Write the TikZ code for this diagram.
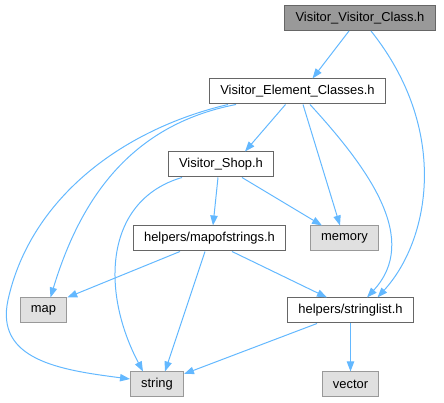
\documentclass[tikz,border=0pt]{standalone}
\usepackage{fontspec}
\setmainfont{Liberation Sans}
\usetikzlibrary{arrows.meta,calc}
\definecolor{edgeblue}{HTML}{63B8FF}
\definecolor{boxgray}{HTML}{666666}
\definecolor{extgray}{HTML}{999999}
\definecolor{extfill}{HTML}{E0E0E0}
\tikzset{
  file/.style={draw=boxgray,fill=white,line width=0.75pt,inner xsep=8pt,inner ysep=0pt,
    minimum height=18.75pt,font=\fontsize{9.7}{11}\selectfont},
  mainfile/.style={file,fill=extgray},
  sysfile/.style={file,draw=extgray,fill=extfill},
  dep/.style={draw=edgeblue,line width=0.75pt,-{Triangle[length=7.5pt,width=5.5pt]}}
}

\begin{document}
\begin{tikzpicture}[x=0.75pt,y=-0.75pt]
            \useasboundingbox (0,0) rectangle (444,403);
            \node (vvc) at (360,18) [mainfile] {Visitor\_Visitor\_Class.h};
            \node (vec) at (297.5,91.5) [file] {Visitor\_Element\_Classes.h};
            \node (shop) at (221,164.5) [file] {Visitor\_Shop.h};
            \node (memory) at (344.5,238.5) [sysfile] {memory};
            \node (mapof) at (209.5,238.5) [file] {helpers/mapofstrings.h};
            \node (map) at (43.5,310.5) [sysfile] {map};
            \node (slist) at (350.5,310.5) [file] {helpers/stringlist.h};
            \node (string) at (157,384.5) [sysfile] {string};
            \node (vector) at (350.5,384.5) [sysfile] {vector};

            \draw[dep] ($(vvc.south)+(-11,0)$) -- ($(vec.north)+(15,0)$);
            \draw[dep] ($(vvc.south)+(11,0)$) .. controls (450,130) and (430,240) .. ($(slist.north)+(27,0)$);

            \draw[dep] ($(vec.south)+(-12,0)$) -- ($(shop.north)+(24,0)$);
            \draw[dep] ($(vec.south)+(5.5,0)$) -- ($(memory.north)+(-4.5,0)$);
            \draw[dep] ($(vec.south)+(12.5,0)$) .. controls (370,170) and (420,240) .. ($(slist.north)+(16.5,0)$);
            \draw[dep] ($(vec.south)+(-61.5,0)$) .. controls (130,125) and (80,200) .. ($(map.north)+(7,0)$);
            \draw[dep] ($(vec.south)+(-69.5,0)$) .. controls (120,130) and (30,200) .. (8,300)
                .. controls (-5,360) and (60,370) .. ($(string.west)+(0,-5.5)$);

            \draw[dep] ($(shop.south)+(21,0)$) -- ($(memory.north)+(-22.5,0)$);
            \draw[dep] ($(shop.south)+(-3,0)$) -- ($(mapof.north)+(3.5,0)$);
            \draw[dep] ($(shop.south)+(-39,0)$) .. controls (105,200) and (100,290) .. ($(string.north)+(-14,0)$);

            \draw[dep] ($(mapof.south)+(-29.5,0)$) -- (map.north east);
            \draw[dep] ($(mapof.south)+(-4.5,0)$) -- ($(string.north)+(8,0)$);
            \draw[dep] ($(mapof.south)+(22.5,0)$) -- ($(slist.north)+(-23.5,0)$);

            \draw[dep] ($(slist.south)+(-33.5,0)$) -- ($(string.east)+(0,-10.5)$);
            \draw[dep] (slist.south) -- (vector.north);
        \end{tikzpicture}
\end{document}
